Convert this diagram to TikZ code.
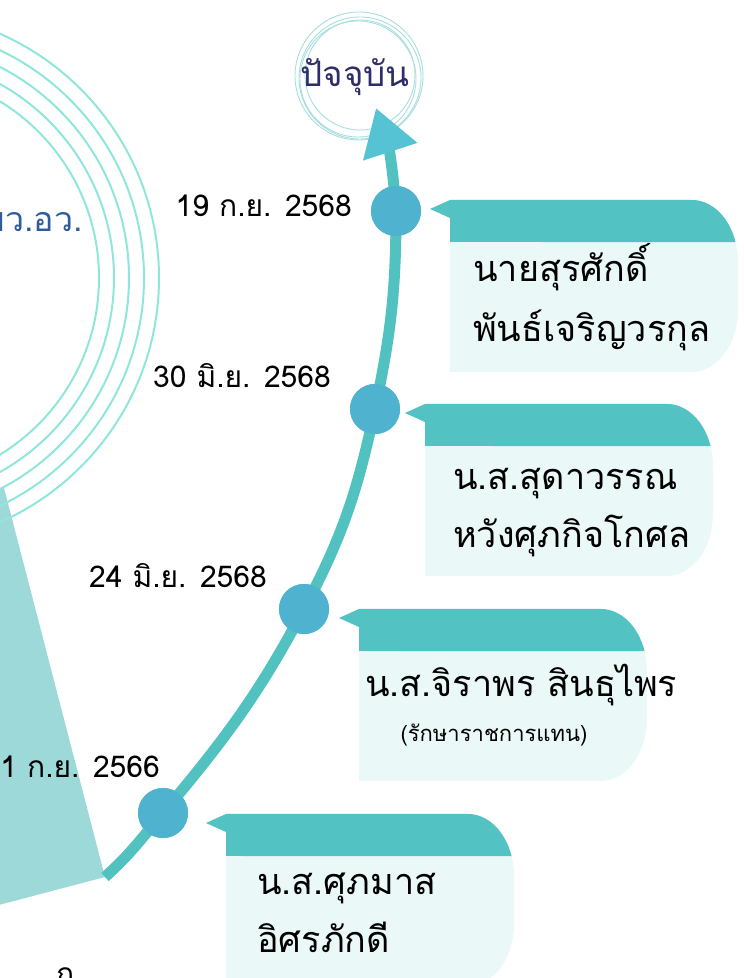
\documentclass[tikz,border=0pt]{standalone}
\usepackage{fontspec}
\setmainfont[Script=Thai]{Loma}
\usetikzlibrary{arrows.meta, positioning}
\definecolor{ringc}{HTML}{8FE6DA}
\definecolor{smallringc}{HTML}{A8DEDE}
\definecolor{wedgec}{HTML}{9DD9D8}
\definecolor{linec}{HTML}{52C2C1}
\definecolor{dotc}{HTML}{4FB3D0}
\definecolor{arrowc}{HTML}{55C3D3}
\definecolor{headc}{HTML}{52C2C2}
\definecolor{bodyc}{HTML}{EBF8F8}
\definecolor{navyc}{HTML}{2E2E6B}
\definecolor{officec}{HTML}{2F5D9B}

\begin{document}
\begin{tikzpicture}[
	x=1pt, y=1pt,
	dot/.style = {circle, fill=dotc, minimum size=50pt, inner sep=0pt},
	timeline/.style = {draw=linec, line width=11pt},
	date/.style = {font=\fontsize{30}{36}\selectfont, anchor=base east, inner sep=0pt},
	who/.style = {font=\fontsize{36}{44}\selectfont, anchor=base west, inner sep=0pt},
	acting/.style = {font=\fontsize{22}{26}\selectfont, anchor=base, inner sep=0pt},
	ring/.style = {draw=ringc, line width=2pt},
	smallring/.style = {draw=smallringc, line width=.9pt}
	]
	\useasboundingbox (0,0) rectangle (744,978);
	\clip (0,0) rectangle (744,978);
%
	\fill[wedgec] (-5,490) -- (4,490) -- (105,101) -- (-5,72) -- cycle;
%
	\foreach \r in {267,252,237,222,207}
		\draw[ring] (-108,700) circle (\r);
	\node[font=\fontsize{34}{40}\selectfont, text=officec, anchor=base east, inner sep=0pt] (office) at (83,746) {บว.อว.};
%
	\foreach \r/\dx/\dy in {64/0/0, 61/1/-2, 58/-1/-3, 55/1/1}
		\draw[smallring] (359+\dx,902+\dy) circle (\r);
	\node[font=\fontsize{35}{42}\selectfont, text=navyc, anchor=base, inner sep=0pt] (now) at (355,891) {ปัจจุบัน};
%
	\foreach \bx/\by [count=\i] in {450/778, 425/574, 359/369, 226/164} {
		\coordinate (b\i) at (\bx,\by);
		\fill[bodyc] (\bx,\by) -- ++(242,0)
			arc[start angle=90, end angle=0, x radius=46, y radius=62] -- ++(0,-48)
			arc[start angle=0, end angle=-90, x radius=46, y radius=62] -- (\bx,\by-172) -- cycle;
		\fill[headc] (\bx,\by-18) -- (\bx-20,\by-9) -- (\bx,\by) -- ++(242,0)
			arc[start angle=90, end angle=18.8, x radius=46, y radius=62] -- (\bx,\by-42) -- cycle;
	}
%
	\coordinate (start) at (105,101);
	\coordinate (tip) at (376,870);
	\node[dot] (d1) at (396,767) {};
	\node[dot] (d2) at (375,569) {};
	\node[dot] (d3) at (304,369) {};
	\node[dot] (d4) at (163,165) {};
	\draw[timeline, -{Triangle[length=46pt, width=54pt, color=arrowc]}]
		(start) to[out=42, in=230] (d4.center)
		to[out=50, in=242] (d3.center)
		to[out=62, in=258] (d2.center)
		to[out=78, in=270] (d1.center)
		to[out=94, in=288] (tip);
	\foreach \d in {d1,d2,d3,d4}
		\fill[dotc] (\d) circle (25);
%
	\node[date] (t1) at ([xshift=-44pt, yshift=-6pt] d1.center) {19 ก.ย. 2568};
	\node[date] (t2) at ([xshift=-44pt, yshift=21pt] d2.center) {30 มิ.ย. 2568};
	\node[date] (t3) at ([xshift=-37pt, yshift=21pt] d3.center) {24 มิ.ย. 2568};
	\node[date] (t4) at ([xshift=-3pt, yshift=35pt] d4.center) {1 ก.ย. 2566};
%
	\node[who] (p1a) at ([shift={(23,-82)}] b1) {นายสุรศักดิ์};
	\node[who] (p1b) at ([yshift=-60pt] p1a.base west) {พันธ์เจริญวรกุล};
	\node[who] (p2a) at ([shift={(28,-86)}] b2) {น.ส.สุดาวรรณ};
	\node[who] (p2b) at ([yshift=-58pt] p2a.base west) {หวังศุภกิจโกศล};
	\node[who] (p3a) at ([shift={(6,-88)}] b3) {น.ส.จิราพร สินธุไพร};
	\node[acting] (p3b) at ([shift={(135,-133)}] b3) {(รักษาราชการแทน)};
	\node[who] (p4a) at ([shift={(31,-81)}] b4) {น.ส.ศุภมาส};
	\node[who] (p4b) at ([yshift=-58pt] p4a.base west) {อิศรภักดี};
%
	\node[font=\fontsize{30}{36}\selectfont, anchor=base west, inner sep=0pt] (next) at (56,-6) {ก};
\end{tikzpicture}
\end{document}
